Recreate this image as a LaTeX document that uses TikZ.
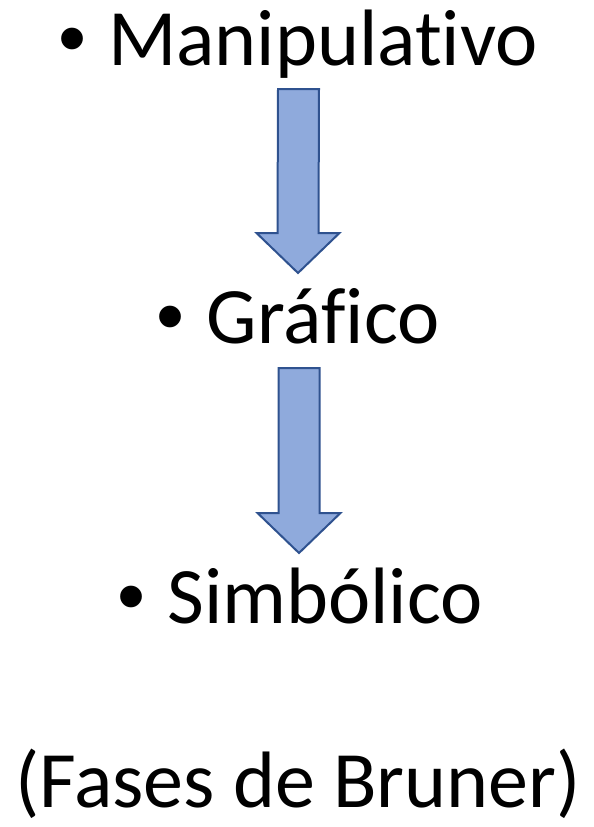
\documentclass[tikz,border=0pt]{standalone}
\usepackage{fontspec}
\setmainfont[Ligatures=NoCommon]{Carlito}
\newfontfamily\bulletfont{Liberation Sans}
\usepackage{tikz}
\usetikzlibrary{calc}
\definecolor{arrowfill}{HTML}{8FAADC}
\definecolor{arrowline}{HTML}{2F528F}
\newcommand{\stagebullet}{{\bulletfont •}\hspace{22pt}}
\tikzset{%
    stage/.style={anchor=base, inner sep=0pt, font=\fontsize{80}{96}\selectfont},
    blockarrow/.style={draw=arrowline, fill=arrowfill, line width=2pt, line join=miter}
}

\begin{document}
\begin{tikzpicture}[x=1pt,y=-1pt]
\useasboundingbox (0,0) rectangle (594,827);

\node[stage] (man) at (298,65) {\stagebullet Manipulativo};
\node[stage] (gra) at (298,343) {\stagebullet Gráfico};
\node[stage] (sim) at (300,623) {\stagebullet Simbólico};
\node[stage] (bru) at (298,807) {(Fases de Bruner)};

\coordinate (s1) at ($(man.base)+(0.5,24)$);
\coordinate (t1) at ($(gra.base)+(0,-70)$);
\coordinate (s2) at ($(gra.base)+(1,25)$);
\coordinate (t2) at ($(sim.base)+(-1,-70)$);

\draw[blockarrow] ($(s1)+(-20.5,0)$) -- ($(s1)+(20.5,0)$) -- ($(t1)+(20.5,-40)$) -- ($(t1)+(41.5,-40)$)
    -- (t1) -- ($(t1)+(-41.5,-40)$) -- ($(t1)+(-20.5,-40)$) -- cycle;
\draw[blockarrow] ($(s2)+(-20.5,0)$) -- ($(s2)+(20.5,0)$) -- ($(t2)+(20.5,-40)$) -- ($(t2)+(41.5,-40)$)
    -- (t2) -- ($(t2)+(-41.5,-40)$) -- ($(t2)+(-20.5,-40)$) -- cycle;
\end{tikzpicture}
\end{document}
